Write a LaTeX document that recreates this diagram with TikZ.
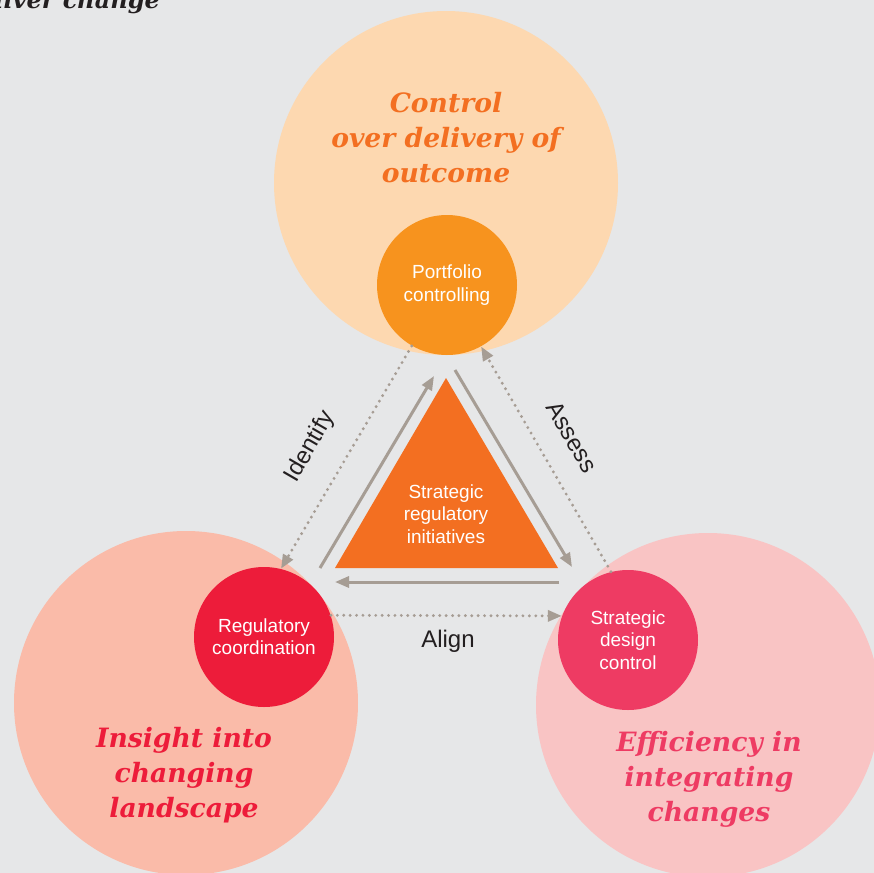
\documentclass[tikz,border=0pt]{standalone}
\usepackage{fontspec}
\setmainfont{Liberation Sans}
\newfontfamily\headfont{DejaVu Serif}
\usetikzlibrary{arrows.meta}

\definecolor{bggrey}{HTML}{E6E7E8}
\definecolor{peach}{HTML}{FDD8B0}
\definecolor{salmon}{HTML}{FABBA9}
\definecolor{rose}{HTML}{F9C4C4}
\definecolor{portorange}{HTML}{F7931E}
\definecolor{coordred}{HTML}{ED1C3A}
\definecolor{designpink}{HTML}{EE3B63}
\definecolor{trifill}{HTML}{F36F21}
\definecolor{arrowgrey}{HTML}{A69D94}
\definecolor{labeldark}{HTML}{231F20}

\begin{document}
\begin{tikzpicture}[x=0.5pt,y=-0.5pt]
    \tikzstyle{area}=[circle,minimum size=172pt,inner sep=0pt]
    \tikzstyle{hub}=[circle,minimum size=70pt,inner sep=0pt,text=white,align=center,font=\fontsize{9.5}{11.2}\selectfont]
    \tikzstyle{goal}=[align=center,inner sep=0pt,font=\headfont\bfseries\itshape\fontsize{13.3}{17.5}\selectfont]
    \tikzstyle{flow}=[draw=arrowgrey,line width=1.5pt,-{Triangle[length=7pt,width=5.5pt]}]
    \tikzstyle{link}=[draw=arrowgrey,line width=1.6pt,dash pattern=on 0pt off 3.2pt,line cap=round,-{Triangle[length=7pt,width=5.5pt]}]
    \tikzstyle{verb}=[text=labeldark,font=\fontsize{12}{14}\selectfont]

    \fill[bggrey] (0,0) rectangle (874,873);
    \useasboundingbox (0,0) rectangle (874,873);

    % title, cut off at the top
    \node[text=labeldark,anchor=base west,inner sep=0pt,font=\headfont\bfseries\itshape\fontsize{12}{14}\selectfont] (title) at (-6,8) {liver change};

    % outcome areas
    \node[area,fill=peach] (ctrlarea) at (446,183) {};
    \node[area,fill=salmon] (insarea) at (186,703) {};
    \node[area,fill=rose] (effarea) at (708,705) {};

    \node[goal,text=trifill] (ctrltext) at (446,138) {Control\\over delivery of\\outcome};
    \node[goal,text=coordred] (instext) at (184,775) {Insight into\\changing\\landscape};
    \node[goal,text=designpink] (efftext) at (709,779) {Efficiency in\\integrating\\changes};

    % functions
    \node[hub,fill=portorange] (port) at (447,285) {Portfolio\\controlling};
    \node[hub,fill=coordred] (regco) at (264,637) {Regulatory\\coordination};
    \node[hub,fill=designpink] (strat) at (628,640) {Strategic\\design\\control};

    % centre triangle
    \coordinate (apex) at (446,378);
    \coordinate (baseL) at (335,568);
    \coordinate (baseR) at (558,568);
    \fill[trifill] (apex) -- (baseR) -- (baseL) -- cycle;
    \node[text=white,align=center,font=\fontsize{9.5}{11.3}\selectfont] (sri) at (446,514) {Strategic\\regulatory\\initiatives};

    % cycle round the triangle
    \coordinate (upS) at (320,568);
    \coordinate (upE) at (434,376);
    \coordinate (dnS) at (455,370);
    \coordinate (dnE) at (572,567);
    \coordinate (bkS) at (559,582);
    \coordinate (bkE) at (335,582);
    \draw[flow] (upS) -- (upE);
    \draw[flow] (dnS) -- (dnE);
    \draw[flow] (bkS) -- (bkE);

    % dotted links between the functions
    \draw[link] (port.240) -- (regco.76);
    \draw[link] (strat.104) -- (port.299);
    \draw[link] (regco.18) -- (strat.160);

    \node[verb,rotate=60] (identify) at (310,447) {Identify};
    \node[verb,rotate=-60] (assess) at (572,437) {Assess};
    \node[verb] (align) at (448,641) {Align};
\end{tikzpicture}
\end{document}
